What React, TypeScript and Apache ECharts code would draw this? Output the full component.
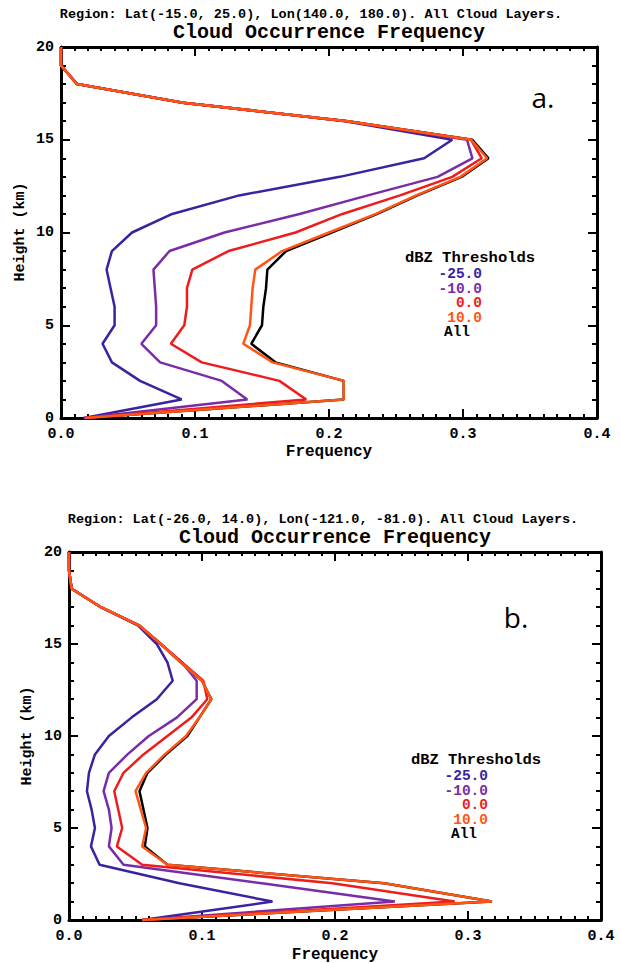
import React, { useEffect, useRef } from "react";
import * as echarts from "echarts";

const heights = [0, 1, 2, 3, 4, 5, 6, 7, 8, 9, 10, 11, 12, 13, 14, 15, 16, 17, 18, 19, 20];
const xTicks = [0, 0.1, 0.2, 0.3, 0.4];
const thresholdLabels = ["-25.0", "-10.0", "0.0", "10.0", "All"];

const blueA = [0.017, 0.09, 0.059, 0.038, 0.031, 0.04, 0.04, 0.037, 0.034, 0.038, 0.053, 0.083, 0.133, 0.208, 0.271, 0.292, 0.212, 0.091, 0.012, 0, 0];
const purpleA = [0.017, 0.139, 0.12, 0.074, 0.06, 0.071, 0.071, 0.07, 0.069, 0.081, 0.122, 0.178, 0.229, 0.281, 0.307, 0.303, 0.214, 0.091, 0.012, 0, 0];
const redA = [0.018, 0.183, 0.163, 0.105, 0.082, 0.092, 0.094, 0.094, 0.098, 0.125, 0.175, 0.21, 0.253, 0.292, 0.314, 0.306, 0.214, 0.091, 0.012, 0, 0];
const orangeA = [0.018, 0.211, 0.211, 0.158, 0.136, 0.141, 0.142, 0.143, 0.145, 0.165, 0.2, 0.235, 0.265, 0.298, 0.318, 0.306, 0.214, 0.091, 0.012, 0, 0];
const allA = [0.018, 0.211, 0.211, 0.16, 0.142, 0.15, 0.151, 0.153, 0.154, 0.168, 0.202, 0.236, 0.266, 0.299, 0.319, 0.307, 0.214, 0.091, 0.012, 0, 0];

const blueB = [0.055, 0.153, 0.083, 0.023, 0.0165, 0.0195, 0.017, 0.0135, 0.015, 0.0195, 0.03, 0.047, 0.066, 0.078, 0.074, 0.066, 0.052, 0.024, 0.002, 0, 0];
const purpleB = [0.055, 0.245, 0.145, 0.041, 0.03, 0.032, 0.03, 0.026, 0.03, 0.044, 0.06, 0.081, 0.096, 0.096, 0.085, 0.069, 0.053, 0.024, 0.002, 0, 0];
const redB = [0.055, 0.29, 0.198, 0.055, 0.036, 0.04, 0.037, 0.034, 0.041, 0.056, 0.074, 0.092, 0.104, 0.101, 0.085, 0.069, 0.053, 0.024, 0.002, 0, 0];
const orangeB = [0.055, 0.318, 0.237, 0.074, 0.055, 0.058, 0.054, 0.05, 0.058, 0.072, 0.088, 0.098, 0.107, 0.1, 0.084, 0.069, 0.053, 0.024, 0.002, 0, 0];
const allB = [0.055, 0.318, 0.237, 0.074, 0.057, 0.059, 0.056, 0.053, 0.059, 0.073, 0.089, 0.098, 0.107, 0.1, 0.084, 0.069, 0.053, 0.024, 0.002, 0, 0];

const COLORS = ["#3a22a0", "#7a2ca8", "#ee1c1c", "#ff5512", "#000000"];
const MONO = "'Liberation Mono', 'DejaVu Sans Mono', monospace";

export default function App() {
  const ref = useRef<HTMLDivElement>(null);
  useEffect(() => {
    document.body.style.margin = "0";
    const chart = echarts.init(ref.current!, null, { renderer: "svg" });

    const labelStyle = { fontFamily: MONO, fontWeight: "bold" as const, fontSize: 15, color: "#000" };
    const axisCommon = {
      type: "value" as const,
      axisLine: { show: true, onZero: false, lineStyle: { color: "#000", width: 3 } },
      axisTick: { show: true, inside: true, length: 9, lineStyle: { color: "#000", width: 2 } },
      splitLine: { show: false },
      minorSplitLine: { show: false },
    };
    const mkX = (gridIndex: number, position: "bottom" | "top", show: boolean) => ({
      ...axisCommon,
      gridIndex,
      position,
      min: xTicks[0],
      max: xTicks[xTicks.length - 1],
      interval: 0.1,
      minorTick: { show: true, splitNumber: 10, length: 4, lineStyle: { color: "#000", width: 2 } },
      axisLabel: { show, ...labelStyle, margin: 9, formatter: (v: number) => v.toFixed(1) },
    });
    const mkY = (gridIndex: number, position: "left" | "right", show: boolean) => ({
      ...axisCommon,
      gridIndex,
      position,
      min: 0,
      max: 20,
      interval: 5,
      minorTick: { show: true, splitNumber: 5, length: 5, lineStyle: { color: "#000", width: 2 } },
      axisLabel: { show, ...labelStyle, margin: 7 },
    });

    const sets = [
      [allA, blueA, purpleA, redA, orangeA],
      [allB, blueB, purpleB, redB, orangeB],
    ];
    const colorOrder = [COLORS[4], COLORS[0], COLORS[1], COLORS[2], COLORS[3]];
    const series: any[] = [];
    sets.forEach((group, gi) => {
      group.forEach((vals, si) => {
        series.push({
          type: "line",
          xAxisIndex: gi * 2,
          yAxisIndex: gi * 2,
          data: vals.map((f, i) => [f, heights[i]]),
          showSymbol: false,
          lineStyle: { color: colorOrder[si], width: 2.5 },
          itemStyle: { color: colorOrder[si] },
          clip: false,
          z: 2 + si,
        });
      });
    });

    const txt = (text: string, x: number, y: number, opts: any = {}) => ({
      type: "text",
      x,
      y,
      rotation: opts.rotation || 0,
      style: {
        text,
        fill: opts.fill || "#000",
        font: opts.font || `bold 16px ${MONO}`,
        lineHeight: opts.lineHeight,
        textAlign: opts.align || "center",
        textVerticalAlign: "middle",
        align: opts.align || "center",
        verticalAlign: "middle",
      },
    });

    const legend = (cx: number, titleY: number, rightX: number, allX: number, step: number) => {
      const out: any[] = [txt("dBZ Thresholds", cx, titleY, { font: `bold 15.5px ${MONO}`, lineHeight: 14 })];
      thresholdLabels.forEach((t, i) => {
        const y = titleY + 2 + step * (i + 1);
        const o = { fill: COLORS[i], font: `bold 14.5px ${MONO}`, lineHeight: 13 };
        if (t === "All") out.push(txt(t, allX, y, o));
        else out.push(txt(t, rightX, y, { ...o, align: "right" }));
      });
      return out;
    };

    const graphic: any[] = [
      txt("Region: Lat(-15.0, 25.0), Lon(140.0, 180.0). All Cloud Layers.", 311, 14, { font: `bold 13.5px ${MONO}` }),
      txt("Cloud Occurrence Frequency", 329, 32, { font: `bold 20px ${MONO}` }),
      txt("Frequency", 329, 452),
      txt("Height (km)", 20, 232, { rotation: Math.PI / 2, font: `bold 15px ${MONO}` }),
      txt("a.", 543, 97, { font: "28px 'Open Sans', sans-serif" }),
      ...legend(470, 258, 482, 457, 14.4),
      txt("Region: Lat(-26.0, 14.0), Lon(-121.0, -81.0). All Cloud Layers.", 323, 519, { font: `bold 13.5px ${MONO}` }),
      txt("Cloud Occurrence Frequency", 335, 537, { font: `bold 20px ${MONO}` }),
      txt("Frequency", 335, 955),
      txt("Height (km)", 27, 736, { rotation: Math.PI / 2, font: `bold 15px ${MONO}` }),
      txt("b.", 516, 617, { font: "28px 'Open Sans', sans-serif" }),
      ...legend(476, 760, 488, 464, 14.4),
    ];

    chart.setOption({
      animation: false,
      backgroundColor: "#fff",
      grid: [
        { left: 61, top: 47, width: 536, height: 371 },
        { left: 69, top: 552, width: 532, height: 368 },
      ],
      xAxis: [mkX(0, "bottom", true), mkX(0, "top", false), mkX(1, "bottom", true), mkX(1, "top", false)],
      yAxis: [mkY(0, "left", true), mkY(0, "right", false), mkY(1, "left", true), mkY(1, "right", false)],
      series,
      graphic,
    });
    return () => chart.dispose();
  }, []);
  return <div ref={ref} style={{ width: 621, height: 963 }} />;
}
